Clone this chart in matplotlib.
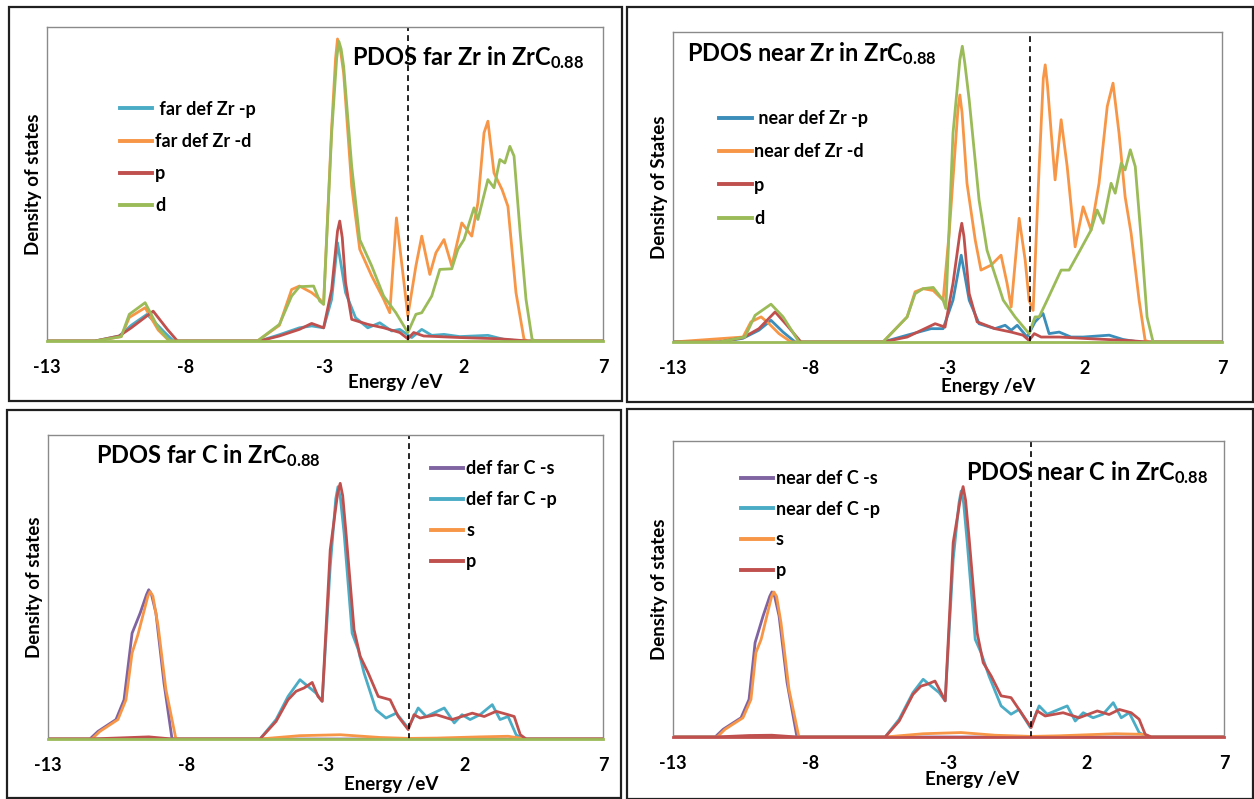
import matplotlib as mpl
import matplotlib.pyplot as plt
from matplotlib.patches import Rectangle

mpl.rc('font', family=['Lato', 'DejaVu Sans'], weight='bold')
mpl.rc('mathtext', fontset='custom', rm='Lato:bold', bf='Lato:bold', it='Lato:bold')

BLUE = '#4BACC6'
BLUE_DARK = '#3B8DBA'
ORANGE = '#F79646'
RED = '#C0504D'
GREEN = '#9BBB59'
PURPLE = '#8064A2'

xticks = [-13, -8, -3, 2, 7]

# ---- PDOS far Zr ----
far_zr_e_defp = [-13, -11.27, -10.40, -9.97, -9.40, -8.8, -8.45, -5.36, -4.64, -3.92, -3.48, -3.05,
                 -2.76, -2.55, -2.26, -1.90, -1.46, -1.03, -0.60, -0.31, 0.12, 0.48, 0.84, 1.28,
                 1.85, 2.86, 3.44, 4.02, 7]
far_zr_defp = [0, 0, 0.16, 0.5, 0.85, 0.3, 0, 0, 0.2, 0.42, 0.48, 0.42,
               1.33, 3.13, 1.54, 0.74, 0.42, 0.58, 0.32, 0.37, 0.11, 0.37, 0.18, 0.21,
               0.14, 0.18, 0.05, 0, 0]
far_zr_e_defd = [-13, -11.27, -10.33, -10.04, -9.47, -9.0, -8.6, -5.43, -4.64, -4.20, -3.92, -3.48,
                 -3.19, -3.05, -2.76, -2.62, -2.55, -2.45, -2.33, -2.04, -1.75, -1.32, -0.89, -0.67,
                 -0.43, -0.31, -0.02, 0.27, 0.48, 0.77, 0.99, 1.28, 1.56, 1.92, 2.28, 2.50, 2.72,
                 2.86, 3.08, 3.37, 3.58, 3.87, 4.16, 4.30, 7]
far_zr_defd = [0, 0, 0.14, 0.75, 1.06, 0.35, 0, 0, 0.5, 1.64, 1.75, 1.54,
               1.33, 1.17, 6.8, 9.0, 9.62, 9.3, 8.54, 4.93, 2.92, 2.07, 1.33, 0.90,
               3.92, 3.0, 0.80, 2.39, 3.34, 2.12, 2.81, 3.23, 2.39, 3.76, 3.34, 4.40, 6.63,
               7.00, 5.35, 4.82, 4.29, 1.54, 0.05, 0, 0]
far_zr_e_p = [-13, -11.27, -10.40, -9.97, -9.18, -8.67, -8.31, -5.36, -4.64, -3.92, -3.48, -3.05,
              -2.76, -2.55, -2.47, -2.38, -2.26, -2.04, -1.46, -0.89, -0.31, -0.02, 0.19, 0.55,
              1.85, 3.29, 4.30, 7]
far_zr_p = [0, 0, 0.16, 0.42, 0.95, 0.37, 0, 0, 0.16, 0.37, 0.56, 0.42,
            1.64, 3.5, 3.82, 3.3, 1.86, 0.69, 0.53, 0.42, 0.27, 0.07, 0.27, 0.16,
            0.11, 0.07, 0, 0]
far_zr_e_d = [-13, -11.27, -10.33, -10.04, -9.47, -9.0, -8.6, -5.43, -4.64, -4.20, -3.92, -3.41,
              -3.19, -3.05, -2.76, -2.58, -2.50, -2.42, -2.33, -2.04, -1.75, -1.32, -0.89, -0.45,
              -0.02, 0.27, 0.48, 0.84, 1.13, 1.56, 1.78, 2.00, 2.36, 2.50, 2.86, 3.08, 3.29,
              3.47, 3.65, 3.80, 4.02, 4.23, 4.45, 4.59, 7]
far_zr_d = [0, 0, 0.14, 0.85, 1.22, 0.42, 0, 0, 0.53, 1.43, 1.73, 1.75,
            1.27, 1.17, 6.63, 9.0, 9.54, 9.3, 8.75, 5.57, 3.23, 2.39, 1.43, 0.90,
            0.27, 0.85, 0.90, 1.43, 2.28, 2.30, 2.92, 3.23, 4.24, 3.87, 5.14, 4.88, 5.78,
            5.67, 6.20, 5.89, 3.45, 1.33, 0.05, 0, 0]

# ---- PDOS near Zr ----
near_zr_e_defp = [-13, -11.32, -10.45, -9.87, -9.43, -8.99, -8.55, -5.35, -4.47, -3.60, -3.16, -2.80,
                  -2.50, -2.21, -1.85, -1.27, -0.90, -0.68, -0.46, -0.10, 0.19, 0.48, 0.70, 1.07,
                  1.50, 1.94, 2.89, 3.40, 3.98, 7]
near_zr_defp = [0, 0, 0.12, 0.38, 0.70, 0.32, 0, 0, 0.22, 0.43, 0.43, 1.35,
                2.80, 1.35, 0.59, 0.43, 0.54, 0.38, 0.54, 0.16, 0.65, 0.92, 0.27, 0.32,
                0.16, 0.16, 0.22, 0.08, 0, 0]
near_zr_e_defd = [-13, -10.45, -10.16, -9.79, -9.50, -9.14, -8.70, -5.35, -4.47, -4.18, -3.89, -3.52,
                  -3.16, -2.94, -2.62, -2.55, -2.47, -2.29, -1.99, -1.78, -1.41, -1.05, -0.83, -0.68,
                  -0.39, -0.17, -0.03, 0.12, 0.34, 0.49, 0.56, 0.64, 0.78, 0.92, 1.14, 1.36, 1.65,
                  1.94, 2.23, 2.52, 2.82, 3.03, 3.25, 3.47, 3.69, 3.98, 4.20, 4.35, 7]
near_zr_defd = [0, 0.16, 0.65, 0.81, 0.59, 0.27, 0, 0, 0.81, 1.62, 1.72, 1.66,
                1.35, 3.5, 7.5, 7.97, 7.4, 5.12, 3.29, 2.32, 2.48, 2.8, 1.89, 1.13,
                3.99, 2.64, 1.35, 1.02, 5.66, 8.5, 8.94, 8.3, 6.73, 5.23, 7.17, 5.66, 3.07,
                4.36, 3.61, 5.12, 7.6, 8.35, 6.73, 4.69, 3.5, 1.35, 0.05, 0, 0]
near_zr_e_p = [-13, -11.32, -10.45, -9.87, -9.28, -8.85, -8.34, -5.35, -4.47, -3.45, -3.09, -2.80,
               -2.55, -2.48, -2.40, -2.21, -1.92, -1.27, -0.68, -0.25, -0.03, 0.16, 0.41, 1.07,
               2.09, 3.55, 4.27, 7]
near_zr_p = [0, 0, 0.14, 0.43, 0.97, 0.54, 0, 0, 0.16, 0.59, 0.48, 1.89,
             3.5, 3.83, 3.4, 1.56, 0.65, 0.43, 0.32, 0.22, 0.05, 0.27, 0.16, 0.16,
             0.11, 0.05, 0, 0]
near_zr_e_d = [-13, -11.32, -10.38, -10.01, -9.43, -8.99, -8.41, -5.35, -4.47, -4.18, -3.89, -3.52,
               -3.16, -3.06, -2.80, -2.55, -2.46, -2.37, -2.21, -1.85, -1.56, -0.97, -0.54, -0.03,
               0.19, 0.34, 0.63, 1.14, 1.43, 1.80, 2.23, 2.45, 2.67, 2.96, 3.11, 3.33, 3.47,
               3.66, 3.84, 4.06, 4.27, 4.49, 7]
near_zr_d = [0, 0, 0.16, 0.86, 1.22, 0.81, 0, 0, 0.81, 1.56, 1.72, 1.76,
             1.35, 1.08, 6.73, 9.1, 9.54, 9.0, 7.81, 4.58, 2.96, 1.35, 0.81, 0.27,
             0.81, 0.81, 1.35, 2.32, 2.32, 2.91, 3.61, 4.26, 3.83, 5.12, 4.80, 5.77, 5.55,
             6.20, 5.66, 3.29, 0.81, 0, 0]

# ---- PDOS far C ----
far_c_e_defs = [-13, -11.49, -11.20, -10.55, -10.26, -9.97, -9.68, -9.45, -9.37, -9.27, -9.11, -8.82,
                -8.53, 7]
far_c_defs = [0, 0, 0.25, 0.64, 1.29, 3.48, 4.14, 4.75, 4.91, 4.75, 4.14, 1.84,
              0, 0]
far_c_e_defp = [-13, -5.36, -4.78, -4.35, -3.92, -3.63, -3.34, -3.12, -2.83, -2.63, -2.55, -2.46,
                -2.33, -2.04, -1.82, -1.61, -1.18, -0.82, -0.45, -0.02, 0.34, 0.63, 1.28, 1.64,
                1.92, 2.21, 2.57, 3.01, 3.29, 3.58, 3.87, 4.09, 7]
far_c_defp = [0, 0, 0.64, 1.40, 1.95, 1.73, 1.51, 1.24, 5.67, 7.9, 8.30, 7.9,
              6.77, 3.48, 2.94, 2.17, 0.96, 0.69, 0.85, 0.36, 1.02, 0.74, 1.02, 0.53,
              0.80, 0.64, 0.80, 1.13, 0.64, 0.74, 0.14, 0, 0]
far_c_e_s = [-13, -11.42, -11.13, -10.48, -10.19, -9.97, -9.76, -9.40, -9.32, -9.22, -9.03, -8.75,
             -8.39, -5.36, -3.92, -2.47, -1.03, -0.02, 1.0, 2.57, 3.58, 4.23, 7]
far_c_s = [0, 0, 0.25, 0.64, 1.29, 2.83, 3.43, 4.7, 4.85, 4.7, 3.70, 1.62,
           0, 0, 0.11, 0.14, 0.05, 0.02, 0.03, 0.07, 0.09, 0, 0]
far_c_e_p = [-13, -11.49, -10.26, -9.37, -8.53, -5.36, -4.78, -4.35, -4.06, -3.77, -3.48, -3.27,
             -3.12, -2.83, -2.56, -2.47, -2.38, -2.26, -1.97, -1.75, -1.46, -1.10, -0.67, -0.38,
             -0.02, 0.19, 0.41, 0.99, 1.56, 2.29, 2.72, 3.15, 3.58, 3.80, 4.02, 4.23, 7]
far_c_p = [0, 0, 0.04, 0.07, 0, 0, 0.58, 1.29, 1.57, 1.68, 1.86, 1.40,
           1.24, 6.22, 8.1, 8.41, 8.0, 6.77, 3.59, 2.72, 2.17, 1.40, 1.29, 0.74,
           0.31, 0.80, 0.69, 0.80, 0.64, 0.85, 0.74, 0.91, 0.80, 0.74, 0.14, 0, 0]

# ---- PDOS near C ----
near_c_e_defs = [-13, -11.47, -11.18, -10.53, -10.24, -10.02, -9.73, -9.49, -9.41, -9.31, -9.15, -8.86,
                 -8.50, 7]
near_c_defs = [0, 0, 0.26, 0.65, 1.27, 3.19, 4.09, 4.75, 4.90, 4.75, 4.09, 1.84,
               0, 0]
near_c_e_defp = [-13, -5.30, -4.79, -4.29, -3.92, -3.63, -3.34, -3.12, -2.83, -2.62, -2.54, -2.45,
                 -2.32, -2.03, -1.82, -1.53, -1.09, -0.73, -0.44, -0.03, 0.29, 0.58, 1.31, 1.60,
                 1.89, 2.25, 2.61, 2.98, 3.27, 3.56, 3.92, 4.21, 7]
near_c_defp = [0, 0, 0.60, 1.50, 1.95, 1.72, 1.50, 1.22, 6.00, 7.9, 8.31, 7.9,
               6.57, 3.30, 2.85, 2.06, 1.05, 0.77, 0.93, 0.32, 1.05, 0.77, 1.05, 0.54,
               0.82, 0.65, 0.77, 1.16, 0.65, 0.82, 0.15, 0, 0]
near_c_e_s = [-13, -11.40, -11.11, -10.46, -10.17, -9.99, -9.80, -9.42, -9.34, -9.24, -9.08, -8.79,
              -8.43, -5.30, -3.92, -2.54, -1.31, 0, 1.0, 3.05, 4.07, 4.36, 7]
near_c_s = [0, 0, 0.26, 0.65, 1.27, 2.85, 3.30, 4.75, 4.90, 4.75, 3.86, 1.61,
            0, 0, 0.11, 0.15, 0.06, 0.02, 0.04, 0.11, 0.09, 0, 0]
near_c_e_p = [-13, -11.47, -10.24, -9.41, -8.50, -5.30, -4.79, -4.29, -4.00, -3.78, -3.49, -3.27,
              -3.12, -2.83, -2.56, -2.47, -2.38, -2.25, -1.96, -1.74, -1.45, -1.09, -0.73, -0.36,
              0, 0.22, 0.51, 1.16, 1.74, 2.40, 2.83, 3.20, 3.63, 3.92, 4.14, 4.36, 7]
near_c_p = [0, 0, 0.05, 0.06, 0, 0, 0.54, 1.44, 1.72, 1.78, 1.89, 1.50,
            1.22, 6.57, 8.1, 8.46, 8.0, 6.69, 3.52, 2.51, 2.06, 1.39, 1.33, 0.82,
            0.32, 0.88, 0.71, 0.82, 0.65, 0.88, 0.76, 0.93, 0.82, 0.60, 0.09, 0, 0]


def draw_panel(ax, series, title, title_xy, leg_xy, leg_space, xlabel_xy, ylabel, base_color):
    for e, v, color, label in series:
        ax.plot(e, v, color=color, lw=2.0, label=label, solid_joinstyle='round')
    ax.axvline(0, color='k', lw=1.2, linestyle=(0, (3.5, 2.5)))
    ax.set_xlim(-13, 7)
    ax.set_ylim(0, 10)
    ax.set_xticks(xticks)
    ax.set_xticklabels([str(t) for t in xticks], fontsize=13, fontweight='bold')
    ax.tick_params(axis='x', length=0, pad=13)
    ax.set_yticks([])
    for s in ax.spines.values():
        s.set_color('#8A8A8A')
        s.set_linewidth(1.0)
    ax.spines['bottom'].set_color(base_color)
    ax.spines['bottom'].set_linewidth(2.0)
    ax.text(title_xy[0], title_xy[1], title, transform=ax.transAxes, fontsize=17,
            fontweight='bold', ha='left', va='baseline')
    ax.text(xlabel_xy[0], xlabel_xy[1], "Energy /eV", transform=ax.transAxes, fontsize=13.5,
            fontweight='bold', ha='center', va='center')
    ax.text(-0.024, 0.5, ylabel, transform=ax.transAxes, fontsize=13.5, fontweight='bold',
            rotation=90, ha='center', va='center')
    leg = ax.legend(loc='upper left', bbox_to_anchor=leg_xy, frameon=False, fontsize=13,
                    borderpad=0, borderaxespad=0, handlelength=1.8, handletextpad=0.15,
                    labelspacing=leg_space)
    for h in leg.get_lines():
        h.set_linewidth(2.8)


fig = plt.figure(figsize=(12.54, 7.99), dpi=100)

# outer frames of the four panels
frames = [(9, 7, 622, 401), (627, 7, 1253, 402), (7, 410, 621, 798), (627, 409, 1253, 799)]
for x0, y0, x1, y1 in frames:
    fig.patches.append(Rectangle((x0 / 1254, 1 - y1 / 799), (x1 - x0) / 1254, (y1 - y0) / 799,
                                 transform=fig.transFigure, fill=False, ec='#202020', lw=1.6))

ax1 = fig.add_axes([47 / 1254, 1 - 341 / 799, 556 / 1254, 314 / 799])
draw_panel(ax1,
           [(far_zr_e_defp, far_zr_defp, BLUE, " far def Zr -p"),
            (far_zr_e_defd, far_zr_defd, ORANGE, "far def Zr -d"),
            (far_zr_e_p, far_zr_p, RED, "p"),
            (far_zr_e_d, far_zr_d, GREEN, "d")],
           r"PDOS far Zr in ZrC$_{0.88}$", (0.549, 0.879), (0.131, 0.765), 0.84,
           (0.626, -0.131), "Density of states", GREEN)

ax2 = fig.add_axes([673 / 1254, 1 - 342 / 799, 549 / 1254, 310 / 799])
draw_panel(ax2,
           [(near_zr_e_defp, near_zr_defp, BLUE_DARK, " near def Zr -p"),
            (near_zr_e_defd, near_zr_defd, ORANGE, "near def Zr -d"),
            (near_zr_e_p, near_zr_p, RED, "p"),
            (near_zr_e_d, near_zr_d, GREEN, "d")],
           r"PDOS near Zr in ZrC$_{0.88}$", (0.0255, 0.906), (0.084, 0.748), 0.9,
           (0.574, -0.142), "Density of States", GREEN)

ax3 = fig.add_axes([48 / 1254, 1 - 739 / 799, 555 / 1254, 304 / 799])
draw_panel(ax3,
           [(far_c_e_defs, far_c_defs, PURPLE, "def far C -s"),
            (far_c_e_defp, far_c_defp, BLUE, "def far C -p"),
            (far_c_e_s, far_c_s, ORANGE, "s"),
            (far_c_e_p, far_c_p, RED, "p")],
           r"PDOS far C in ZrC$_{0.88}$", (0.0865, 0.909), (0.69, 0.917), 0.78,
           (0.618, -0.151), "Density of states", GREEN)

ax4 = fig.add_axes([673 / 1254, 1 - 737 / 799, 551 / 1254, 296 / 799])
draw_panel(ax4,
           [(near_c_e_defs, near_c_defs, PURPLE, "near def C -s"),
            (near_c_e_defp, near_c_defp, BLUE, "near def C -p"),
            (near_c_e_s, near_c_s, ORANGE, "s"),
            (near_c_e_p, near_c_p, RED, "p")],
           r"PDOS near C in ZrC$_{0.88}$", (0.532, 0.868), (0.123, 0.902), 0.76,
           (0.543, -0.145), "Density of states", RED)

fig.savefig("out.png", dpi=100)
